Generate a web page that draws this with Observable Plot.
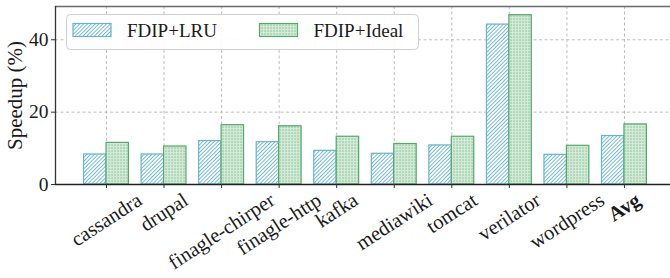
<!DOCTYPE html>
<html><head><meta charset="utf-8">
<script src="https://cdn.jsdelivr.net/npm/d3@7"></script>
<script src="https://cdn.jsdelivr.net/npm/@observablehq/plot@0.6"></script>
<style>
html,body{margin:0;padding:0;background:#fff;}
</style></head><body>
<script>
const categories = ["cassandra","drupal","finagle-chirper","finagle-http","kafka","mediawiki","tomcat","verilator","wordpress","Avg"];
const lruValues = [8.3, 8.3, 12.0, 11.7, 9.3, 8.5, 10.8, 44.2, 8.2, 13.4];
const idealValues = [11.5, 10.5, 16.4, 16.1, 13.2, 11.2, 13.2, 46.8, 10.7, 16.6];
const seriesNames = ["FDIP+LRU", "FDIP+Ideal"];
const yTicks = [0, 20, 40];
const yLabel = "Speedup (%)";

const blue = "#64B5CD", green = "#55A868";
const barW = 0.39;
const xDomain = [-0.886, 9.8];
const yDomain = [0, 49.2];
const idx = categories.map((_, i) => i);
const FONT = "'Liberation Serif', 'Times New Roman', serif";
const ROT = 33;

const plot = Plot.plot({
  width: 670, height: 278,
  marginLeft: 55, marginRight: 0, marginTop: 6, marginBottom: 94,
  style: {fontFamily: FONT, fontSize: "19px", background: "white", color: "#1a1a1a", overflow: "visible"},
  x: {type: "linear", domain: xDomain, axis: null},
  y: {domain: yDomain, axis: null},
  marks: [
    Plot.gridX({ticks: idx, stroke: "#b5b5b5", strokeOpacity: 1, strokeDasharray: "3,2.5", strokeWidth: 0.9}),
    Plot.gridY({ticks: yTicks, stroke: "#b5b5b5", strokeOpacity: 1, strokeDasharray: "3,2.5", strokeWidth: 0.9}),
    Plot.rectY(categories, {x1: (d, i) => i - barW, x2: (d, i) => i, y1: 0, y2: (d, i) => lruValues[i],
      fill: "url(#hatchLRU)", stroke: blue, strokeWidth: 1.2}),
    Plot.rectY(categories, {x1: (d, i) => i, x2: (d, i) => i + barW, y1: 0, y2: (d, i) => idealValues[i],
      fill: "url(#dotIdeal)", stroke: green, strokeWidth: 1.2}),
    Plot.ruleY([yDomain[1]], {stroke: "#6a6a6a", strokeWidth: 1.6}),
    Plot.ruleX([xDomain[0]], {stroke: "#333", strokeWidth: 1.3}),
    Plot.ruleY([0], {stroke: "#222", strokeWidth: 1.4}),
    Plot.axisY({ticks: yTicks, tickSize: 4, tickPadding: 3, label: null, stroke: "#333", fontSize: 19.5}),
    Plot.axisX({ticks: idx, tickSize: 4, tickFormat: () => "", label: null, stroke: "#333"}),
    Plot.text([yLabel], {text: d => d, frameAnchor: "left", textAnchor: "middle", rotate: -90, dx: -40, fontSize: 21}),
    Plot.text(categories.filter(c => c !== "Avg"), {x: d => categories.indexOf(d), y: 0, text: d => d, rotate: -ROT, textAnchor: "middle", fontSize: 20.5, className: "xlab"}),
    Plot.text(categories.filter(c => c === "Avg"), {x: d => categories.indexOf(d), y: 0, text: d => d, rotate: -ROT, textAnchor: "middle", fontSize: 20.5, fontWeight: "bold", className: "xlab"})
  ]
});

const svg = d3.select(plot);
const defs = svg.insert("defs", ":first-child");
const p1 = defs.append("pattern").attr("id", "hatchLRU").attr("patternUnits", "userSpaceOnUse")
  .attr("width", 2.7).attr("height", 2.7).attr("patternTransform", "rotate(45)");
p1.append("rect").attr("width", 2.7).attr("height", 2.7).attr("fill", "white");
p1.append("line").attr("x1", 0.5).attr("y1", 0).attr("x2", 0.5).attr("y2", 2.7).attr("stroke", blue).attr("stroke-width", 0.9);
const p2 = defs.append("pattern").attr("id", "dotIdeal").attr("patternUnits", "userSpaceOnUse")
  .attr("width", 3).attr("height", 3);
p2.append("rect").attr("width", 3).attr("height", 3).attr("fill", "#d3e9d7");
p2.append("rect").attr("x", 0.5).attr("y", 0.5).attr("width", 1.1).attr("height", 1.1).attr("fill", green).attr("fill-opacity", 0.85);

document.body.append(plot);

// x labels: rotated, centered on tick; layout-box top fixed below the axis
const xs = plot.scale("x"), ys = plot.scale("y");
const topY = ys.apply(0) + 3.5;
const th = ROT * Math.PI / 180;
svg.selectAll(".xlab text").each(function() {
  const el = this;
  const i = categories.indexOf(el.textContent);
  const L = el.getComputedTextLength();
  const h = 24;
  const H = L * Math.sin(th) + h * Math.cos(th);
  el.setAttribute("transform", `translate(${xs.apply(i)},${topY + H / 2}) rotate(${-ROT})`);
});

// legend
const lg = svg.append("g").attr("font-family", FONT).attr("font-size", 19).attr("text-anchor", "start");
lg.append("rect").attr("x", 66.5).attr("y", 14.5).attr("width", 352).attr("height", 35).attr("rx", 4)
  .attr("fill", "white").attr("fill-opacity", 0.92).attr("stroke", "#d0d0d0");
const swatches = [{x: 73, fill: "url(#hatchLRU)", stroke: blue}, {x: 259.5, fill: "url(#dotIdeal)", stroke: green}];
seriesNames.forEach((name, k) => {
  lg.append("rect").attr("x", swatches[k].x).attr("y", 23.5).attr("width", 38).attr("height", 13)
    .attr("fill", swatches[k].fill).attr("stroke", swatches[k].stroke).attr("stroke-width", 1.2);
  lg.append("text").attr("x", swatches[k].x + 54).attr("y", 36.5).attr("fill", "#1a1a1a").attr("text-anchor", "start").text(name);
});
</script>
</body></html>
